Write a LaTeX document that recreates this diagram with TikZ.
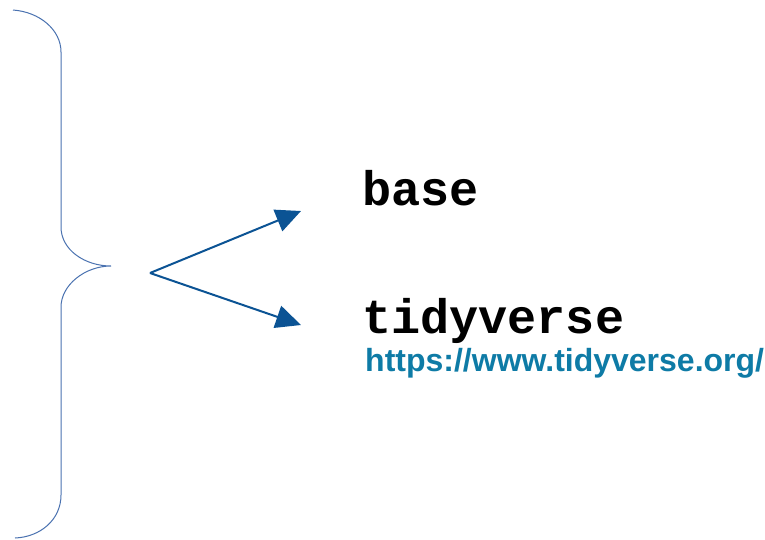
\documentclass[tikz,border=0pt]{standalone}
\usepackage{fontspec}
\setmainfont{Liberation Sans}
\newfontfamily\codefont{Liberation Mono}
\usetikzlibrary{arrows.meta}
\definecolor{bracecol}{HTML}{4A72B0}
\definecolor{arrowcol}{HTML}{0B5394}
\definecolor{urlcol}{HTML}{0E7BA6}
\tikzset{
  brace/.style={draw=bracecol, line width=1pt},
  pointer/.style={draw=arrowcol, line width=2pt, -{Triangle[length=25pt,width=23pt]}},
  pkg/.style={anchor=base west, inner sep=0pt, font=\codefont\bfseries\fontsize{48.5}{50}\selectfont},
  link/.style={anchor=base west, inner sep=0pt, text=urlcol, font=\bfseries\fontsize{32}{34}\selectfont},
}
\begin{document}
\begin{tikzpicture}[x=1pt,y=-1pt]
\useasboundingbox (0,0) rectangle (765,539);
\draw[brace] (13,10) .. controls (40,12) and (61,30) .. (61,52) -- (61,227)
  .. controls (61,250) and (85,266) .. (111,266)
  .. controls (85,266) and (61,285) .. (61,307) -- (61,495)
  .. controls (61,520) and (40,537) .. (15,538);
\coordinate (o) at (150,273);
\coordinate (t1) at (301,211);
\coordinate (t2) at (301,325);
\draw[pointer] (o) -- (t1);
\draw[pointer] (o) -- (t2);
\node[pkg] (base) at (362,205) {base};
\node[pkg] (tidy) at (362,333) {tidyverse};
\node[link] (url) at (365,371) {https://www.tidyverse.org/};
\end{tikzpicture}
\end{document}
